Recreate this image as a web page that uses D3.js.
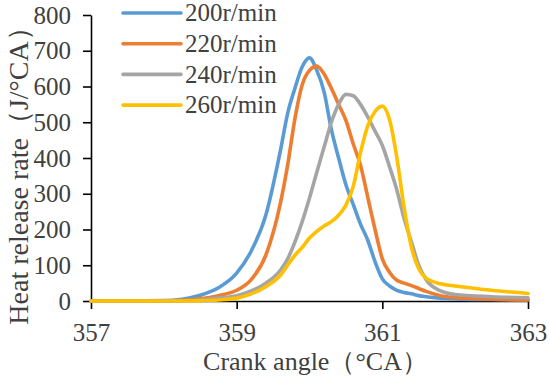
<!DOCTYPE html>
<html>
<head>
<meta charset="utf-8">
<script src="https://cdnjs.cloudflare.com/ajax/libs/d3/7.8.5/d3.min.js"></script>
<style>
  body { margin: 0; background: #fff; }
  .lbl { font-family: "Liberation Serif"; fill: #404040; }
</style>
</head>
<body>
<svg id="chart" width="550" height="380"></svg>
<script>
// crank angle (°CA) shared by all series
let angles = [357, 357.5, 358, 358.25, 358.5, 358.75, 359, 359.2, 359.4, 359.6, 359.7, 359.8, 359.9,
    360, 360.1, 360.2, 360.3, 360.4, 360.5, 360.6, 360.7, 360.8, 360.9,
    361, 361.1, 361.2, 361.3, 361.4, 361.5, 361.6, 361.8, 362, 362.5, 363]

// heat release rate (J/°CA)
let rate200 = [0, 0, 1, 5, 16, 37, 78, 140, 240, 420, 525, 595, 655,
    680, 645, 585, 480, 400, 325, 270, 215, 170, 110,
    62, 42, 30, 24, 20, 15, 12, 8, 6, 4, 3]
let rate220 = [0, 0, 0, 2, 6, 15, 30, 60, 128, 273, 380, 510, 605,
    645, 657, 635, 595, 550, 505, 440, 380, 290, 200,
    118, 80, 58, 50, 43, 35, 27, 15, 10, 5, 3]
let rate240 = [0, 0, 0, 1, 3, 8, 15, 28, 50, 86, 118, 165, 222,
    288, 360, 430, 500, 550, 578, 574, 550, 515, 475,
    435, 375, 310, 230, 165, 100, 60, 28, 18, 12, 9]
let rate260 = [0, 0, 0, 0, 1, 3, 8, 20, 40, 72, 100, 128, 150,
    176, 195, 210, 222, 240, 268, 320, 415, 490, 530,
    545, 506, 400, 260, 150, 90, 64, 48, 42, 30, 21]

let seriesNames = ["200r/min", "220r/min", "240r/min", "260r/min"]
let seriesColors = ["#5b9bd5", "#ed7d31", "#a5a5a5", "#ffc000"]
let xTicks = [357, 359, 361, 363]
let yTicks = [0, 100, 200, 300, 400, 500, 600, 700, 800]

let svg = d3.select("#chart")
let margin = { top: 15, right: 22, bottom: 79, left: 91 }
let width = +svg.attr("width") - margin.left - margin.right
let height = +svg.attr("height") - margin.top - margin.bottom

let xScale = d3.scaleLinear().domain([357, 363]).range([0, width])
let yScale = d3.scaleLinear().domain([0, 800]).range([height, 0])

let g = svg.append("g")
    .attr("transform", "translate(" + margin.left + "," + margin.top + ")")

let xAxis = d3.axisBottom(xScale)
    .tickValues(xTicks)
    .tickFormat(d3.format("d"))
    .tickSize(8)
    .tickSizeOuter(0)
    .tickPadding(14)

let yAxis = d3.axisLeft(yScale)
    .tickValues(yTicks)
    .tickSize(8)
    .tickSizeOuter(0)
    .tickPadding(12)

let gX = g.append("g")
    .attr("transform", "translate(0," + height + ")")
    .call(xAxis)

let gY = g.append("g").call(yAxis)

g.selectAll(".domain, .tick line")
    .attr("stroke", "#000")
    .attr("stroke-width", 1.6)

gX.attr("font-family", null).attr("font-size", null)
gY.attr("font-family", null).attr("font-size", null)

g.selectAll(".tick text")
    .attr("class", "lbl")
    .attr("fill", "#404040")
    .style("font-size", "25px")

let series = [rate200, rate220, rate240, rate260]

let line = d3.line()
    .x((d, i) => xScale(angles[i]))
    .y(d => yScale(d))
    .curve(d3.curveMonotoneX)

g.selectAll(".series")
    .data(series)
    .enter().append("path")
        .attr("class", "series")
        .attr("d", d => line(d))
        .attr("fill", "none")
        .attr("stroke", (d, i) => seriesColors[i])
        .attr("stroke-width", 3.6)
        .attr("stroke-linejoin", "round")
        .attr("stroke-linecap", "round")

// legend
let legend = svg.append("g").attr("transform", "translate(123,13)")
let items = legend.selectAll("g")
    .data(seriesNames)
    .enter().append("g")
        .attr("transform", (d, i) => "translate(0," + (i * 30.7) + ")")

items.append("line")
    .attr("x1", 0)
    .attr("x2", 58)
    .attr("stroke", (d, i) => seriesColors[i])
    .attr("stroke-width", 3.6)
    .attr("stroke-linecap", "round")

items.append("text")
    .attr("class", "lbl")
    .attr("x", 62)
    .attr("dy", "0.33em")
    .style("font-size", "25px")
    .text(d => d)

svg.append("text")
    .attr("class", "lbl")
    .attr("x", margin.left + width / 2 + 6)
    .attr("y", 370)
    .style("text-anchor", "middle")
    .style("font-size", "26px")
    .text("Crank angle（°CA）")

svg.append("text")
    .attr("class", "lbl")
    .attr("transform", "rotate(-90)")
    .attr("x", -169)
    .attr("y", 28)
    .style("text-anchor", "middle")
    .style("font-size", "28px")
    .text("Heat release rate（J/°CA）")
</script>
</body>
</html>
